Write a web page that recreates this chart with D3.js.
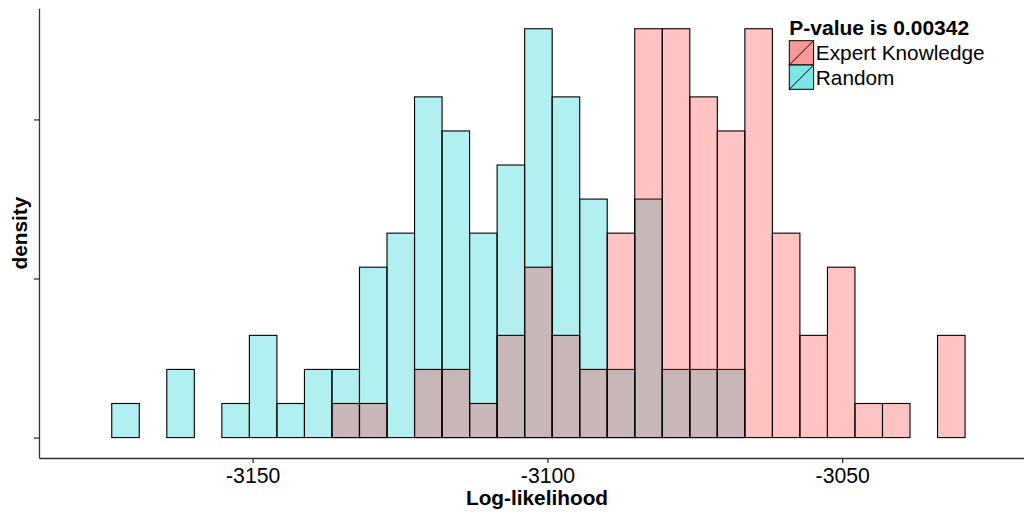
<!DOCTYPE html>
<html>
<head>
<meta charset="utf-8">
<script src="https://cdn.jsdelivr.net/npm/d3@7"></script>
<style>
  html, body { margin: 0; padding: 0; background: #fff; }
  svg { display: block; font-family: "Liberation Sans", Arial, sans-serif; }
</style>
</head>
<body>
<svg id="chart" width="1024" height="514"></svg>
<script>
// Histogram bins shared by both groups (log-likelihood)
const binStart = -3178.57;
const binWidth = 4.669;

// Counts per bin, 33 bins from binStart
const expertCounts = [0, 0,0,0,0,0,0,0,0,1,1,0,2,2,1,3,5,3,2,6,12,12,10,9,12,6,3,5,1,1,0,3, 0];
const randomCounts = [0, 1,0,2,0,1,3,1,2,2,5,6,10,9,6,8,12,10,7,2,7,2,2,2,0,0,0,0,0,0,0,0, 0];

const seriesNames = ["Expert Knowledge", "Random"];
const xTicks = [-3150, -3100, -3050];
const xTickLabels = ["-3150", "-3100", "-3050"];
const yTicks = [0, 0.01, 0.02];
const legendTitle = "P-value is 0.00342";
const xTitle = "Log-likelihood";
const yTitle = "density";

const svg = d3.select("#chart");
const FONT = 20.8;

const x = d3.scaleLinear().domain([-3186.24, -3017.3]).range([39, 1035]);
const y = d3.scaleLinear().domain([-0.001285, 0.026987]).range([458, 8.3]);

function toBins(counts) {
  const total = d3.sum(counts);
  return counts.map((c, i) => {
    const x0 = binStart + i * binWidth;
    return { x0, x1: x0 + binWidth, density: c / (total * binWidth) };
  });
}

const styles = {
  "Random": { fill: "rgb(0,202,204)", opacity: 0.3, key: "rgb(124,229,230)" },
  "Expert Knowledge": { fill: "rgb(255,40,40)", opacity: 0.28, key: "rgb(250,152,150)" }
};

// Random underneath, Expert Knowledge on top
const layers = [
  { name: "Random", bins: toBins(randomCounts) },
  { name: "Expert Knowledge", bins: toBins(expertCounts) }
];

const plot = svg.append("g");
layers.forEach(layer => {
  const st = styles[layer.name];
  plot.append("g").selectAll("rect")
    .data(layer.bins)
    .join("rect")
    .attr("x", d => x(d.x0))
    .attr("width", d => x(d.x1) - x(d.x0))
    .attr("y", d => y(d.density))
    .attr("height", d => y(0) - y(d.density))
    .attr("fill", st.fill)
    .attr("fill-opacity", st.opacity)
    .attr("stroke", "#000")
    .attr("stroke-width", 1.1);
});

// Axes
const xAxis = svg.append("g")
  .attr("transform", `translate(0,${y.range()[0]})`)
  .call(d3.axisBottom(x).tickValues(xTicks)
    .tickFormat((d, i) => xTickLabels[i])
    .tickSize(5).tickPadding(4.7).tickSizeOuter(0));
xAxis.select(".domain").attr("stroke", "#333").attr("stroke-width", 1.3);
xAxis.selectAll(".tick line").attr("stroke", "#333").attr("stroke-width", 1.3);
xAxis.selectAll(".tick text").attr("font-size", FONT + 0.4).attr("fill", "#000")
  .attr("font-family", "Liberation Sans, Arial, sans-serif");

const yAxis = svg.append("g")
  .attr("transform", `translate(${x.range()[0]},0)`)
  .call(d3.axisLeft(y).tickValues(yTicks).tickSize(5).tickFormat(() => "").tickSizeOuter(0));
yAxis.select(".domain").attr("stroke", "#333").attr("stroke-width", 1.3);
yAxis.selectAll(".tick line").attr("stroke", "#333").attr("stroke-width", 1.3);

// Axis titles
svg.append("text")
  .attr("x", (x.range()[0] + x.range()[1]) / 2)
  .attr("y", 504.5)
  .attr("text-anchor", "middle")
  .attr("font-size", FONT)
  .attr("font-weight", "bold")
  .text(xTitle);

svg.append("text")
  .attr("transform", `translate(27,${(y.range()[0] + y.range()[1]) / 2}) rotate(-90)`)
  .attr("text-anchor", "middle")
  .attr("font-size", FONT)
  .attr("font-weight", "bold")
  .text(yTitle);

// Legend
const legend = svg.append("g").attr("transform", "translate(789.3,0)");
legend.append("text")
  .attr("x", 0).attr("y", 35)
  .attr("font-size", FONT + 0.2)
  .attr("font-weight", "bold")
  .text(legendTitle);

const keySize = 24.3;
seriesNames.forEach((name, i) => {
  const top = 40.7 + i * keySize;
  const g = legend.append("g").attr("transform", `translate(0,${top})`);
  g.append("rect")
    .attr("width", keySize).attr("height", keySize)
    .attr("fill", styles[name].key)
    .attr("stroke", "#000").attr("stroke-width", 1);
  g.append("line")
    .attr("x1", 0).attr("y1", keySize)
    .attr("x2", keySize).attr("y2", 0)
    .attr("stroke", "#000").attr("stroke-width", 1);
  g.append("text")
    .attr("x", keySize + 2.2)
    .attr("y", 19.8)
    .attr("font-size", FONT)
    .text(name);
});
</script>
</body>
</html>
